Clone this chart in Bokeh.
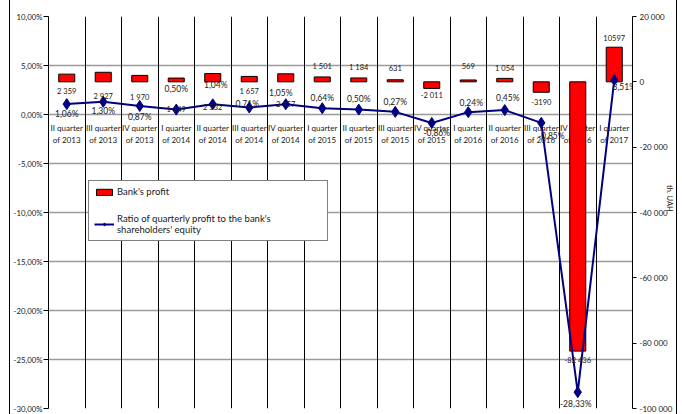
import numpy as np
from bokeh.plotting import figure
from bokeh.models import (Range1d, LinearAxis, FixedTicker, CustomJSTickFormatter, Grid,
                          Legend, LegendItem, ColumnDataSource)
from bokeh.core.properties import value
from bokeh.embed import file_html
from bokeh.resources import INLINE

categories = ["II quarter\nof 2013", "III quarter\nof 2013", "IV quarter\nof 2013",
              "I quarter\nof 2014", "II quarter\nof 2014", "III quarter\nof 2014", "IV quarter\nof 2014",
              "I quarter\nof 2015", "II quarter\nof 2015", "III quarter\nof 2015", "IV quarter\nof 2015",
              "I quarter\nof 2016", "II quarter\nof 2016", "III quarter\nof 2016", "IV quarter\nof 2016",
              "I quarter\nof 2017"]
profit = [2359, 2927, 1970, 1149, 2532, 1657, 2457, 1501, 1184, 631, -2011, 569, 1054, -3190, -82436, 10597]
profit_labels = ["2 359", "2 927", "1 970", "1 149", "2 532", "1 657", "2 457", "1 501", "1 184", "631",
                 "-2 011", "569", "1 054", "-3190", "-82 436", "10597"]
ratio = [1.06, 1.30, 0.87, 0.50, 1.04, 0.71, 1.05, 0.64, 0.50, 0.27, -0.86, 0.24, 0.45, -0.85, -28.33, 3.51]

left_ticks = [-30, -25, -20, -15, -10, -5, 0, 5, 10]
right_ticks = [-100000, -80000, -60000, -40000, -20000, 0, 20000]
right_title = "th. UAH"

# label placement (pixel offsets, styling only)
ratio_dx = [0, 0, 0, 0, 3, -2, -5, 0, 0, 0, 5, 3, 3, 10, -2, 10]
ratio_dy = [10, 9, 11, -21, -19, -4, -11, -10, -11, -10, 10, -9, -12, 13, 12, 7]
profit_dy = [17, 24, 22, 31, 34, 15, 31, -10, -10, -12, 7, -14, -10, 10, 9, -9]

FONT = "Lato"
TXT = "#202020"
n = len(categories)
xs = np.arange(n) + 0.5

p = figure(width=668, height=414, x_range=Range1d(0, n), y_range=Range1d(-30, 10),
           x_axis_location=None, output_backend="svg", toolbar_location=None,
           min_border_left=37, min_border_right=46, min_border_top=16, min_border_bottom=6)
p.styles = {"margin-left": "9px", "border-left": "1.5px solid black", "border-right": "1.5px solid black"}
p.outline_line_color = None
p.extra_y_ranges = {"right": Range1d(-100000, 20000)}

# left axis
ya = p.yaxis[0]
ya.ticker = FixedTicker(ticks=left_ticks)
ya.formatter = CustomJSTickFormatter(code="return tick.toFixed(2).replace('.', ',') + '%';")
ya.major_label_text_font = FONT
ya.major_label_text_font_size = "7.8px"
ya.major_label_text_color = TXT
ya.major_tick_out = 5
ya.major_tick_in = 0
ya.minor_tick_out = 0
ya.minor_tick_in = 0
ya.major_label_standoff = 1
ya.axis_line_color = "black"

# right axis (title pulled in between the tick labels, shifted upward by trailing em spaces)
ra = LinearAxis(y_range_name="right", ticker=FixedTicker(ticks=right_ticks))
ra.formatter = CustomJSTickFormatter(
    code="return tick.toFixed(0).replace(/\\B(?=(\\d{3})+(?!\\d))/g, ' ');")
ra.major_label_text_font = FONT
ra.major_label_text_font_size = "8px"
ra.major_label_text_color = TXT
ra.major_tick_out = 4
ra.major_tick_in = 0
ra.minor_tick_out = 0
ra.minor_tick_in = 0
ra.major_label_standoff = 3
ra.axis_line_color = "black"
ra.axis_label = right_title + "\u2003" * 5
ra.axis_label_standoff = -10
ra.axis_label_text_font = FONT
ra.axis_label_text_font_size = "7.5px"
ra.axis_label_text_font_style = "normal"
ra.axis_label_text_color = TXT
p.add_layout(ra, "right")

# grids
p.ygrid.ticker = FixedTicker(ticks=left_ticks)
p.ygrid.grid_line_color = "#9a9a9a"
p.ygrid.grid_line_width = 1.3
p.add_layout(Grid(dimension=0, ticker=FixedTicker(ticks=list(range(0, n + 1))),
                  grid_line_color="black", grid_line_width=1))

src = ColumnDataSource(dict(x=xs, profit=profit, plab=profit_labels, ratio=ratio,
                            rlab=[f"{v:.2f}".replace(".", ",") + "%" for v in ratio],
                            rdx=ratio_dx, rdy=ratio_dy, pdy=profit_dy,
                            cat=categories, zero=[0] * n))

# category labels along the 0% line
p.text(x="x", y="zero", text="cat", source=src, text_font=value(FONT), text_font_size="8px",
       text_color=TXT, text_align="center", text_baseline="top", y_offset=8, text_line_height=1.25)

bars = p.vbar(x="x", top="profit", bottom=0, width=0.44, source=src, y_range_name="right",
              fill_color="#ff0000", line_color="black", line_width=1)
line = p.line(x="x", y="ratio", source=src, line_color="#000080", line_width=2)
marks = p.scatter(x="x", y="ratio", source=src, marker="diamond", size=11,
                  fill_color="#000080", line_color="#000080")

p.text(x="x", y="profit", text="plab", source=src, y_range_name="right", y_offset="pdy",
       text_font=value(FONT), text_font_size="7.5px", text_color=TXT,
       text_align="center", text_baseline="middle")
p.text(x="x", y="ratio", text="rlab", source=src, x_offset="rdx", y_offset="rdy",
       text_font=value(FONT), text_font_size="8.5px", text_color=TXT,
       text_align="center", text_baseline="middle")

legend = Legend(items=[
    LegendItem(label="Bank's profit", renderers=[bars]),
    LegendItem(label="Ratio of quarterly profit to the bank's\nshareholders' equity", renderers=[line, marks]),
], location=(40, 167))
legend.border_line_color = "black"
legend.border_line_width = 1
legend.background_fill_color = "white"
legend.background_fill_alpha = 1
legend.label_text_font = FONT
legend.label_text_font_size = "9.5px"
legend.label_text_color = TXT
legend.padding = 5
legend.spacing = 16
legend.margin = 0
legend.glyph_width = 20
legend.glyph_height = 8
legend.label_standoff = 3
legend.label_width = 205
legend.label_text_line_height = 1.25
p.add_layout(legend, "center")

open("out.html", "w").write(file_html(p, INLINE))
